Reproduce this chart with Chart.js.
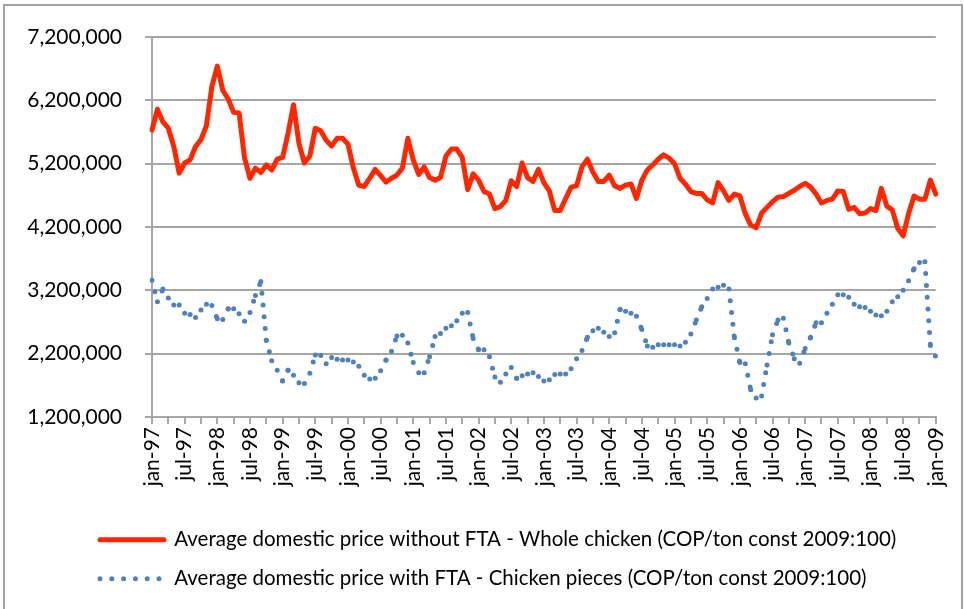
<!DOCTYPE html>
<html><head><meta charset="utf-8">
<script src="https://cdn.jsdelivr.net/npm/chart.js@4.4.1/dist/chart.umd.min.js"></script>
<style>
html,body{margin:0;padding:0;background:#fff;overflow:hidden}
#wrap{position:relative;width:964px;height:609px}
#frame{position:absolute;left:3px;top:4px;width:960px;height:700px;border:2px solid #a3a3a3;box-sizing:border-box;pointer-events:none}
canvas{position:absolute;left:0;top:0}
</style></head>
<body><div id="wrap"><canvas id="c" width="964" height="609"></canvas><div id="frame"></div></div>
<script>
const monthNames = ['jan','feb','mar','apr','may','jun','jul','aug','sep','oct','nov','dec'];
const years = ['97','98','99','00','01','02','03','04','05','06','07','08','09'];
const categories = [];
years.forEach((y, k) => { monthNames.forEach(m => { if (k < years.length - 1 || m === 'jan') categories.push(m + '-' + y); }); });

const seriesNames = [
  'Average domestic price without FTA - Whole chicken (COP/ton const 2009:100)',
  'Average domestic price with FTA - Chicken pieces (COP/ton const 2009:100)'
];

const wholeChicken = [
5730000,6060000,5860000,5760000,5470000,5050000,5210000,5260000,5470000,5580000,5800000,6420000,
6740000,6360000,6220000,6010000,6000000,5290000,4970000,5130000,5060000,5180000,5100000,5270000,
5300000,5680000,6130000,5520000,5210000,5320000,5760000,5720000,5570000,5480000,5600000,5600000,
5510000,5130000,4860000,4840000,4970000,5110000,5010000,4910000,4970000,5020000,5130000,5600000,
5260000,5030000,5150000,4980000,4940000,4980000,5320000,5430000,5430000,5300000,4790000,5040000,
4940000,4760000,4720000,4490000,4520000,4620000,4930000,4840000,5210000,4980000,4920000,5110000,
4900000,4770000,4460000,4460000,4650000,4830000,4850000,5150000,5270000,5070000,4920000,4920000,
5020000,4850000,4810000,4860000,4880000,4650000,4940000,5100000,5180000,5270000,5340000,5290000,
5200000,4970000,4880000,4760000,4730000,4730000,4630000,4580000,4900000,4770000,4620000,4720000,
4690000,4410000,4230000,4190000,4420000,4510000,4600000,4670000,4680000,4730000,4780000,4840000,
4890000,4830000,4720000,4580000,4620000,4640000,4770000,4760000,4480000,4510000,4410000,4420000,
4490000,4460000,4810000,4530000,4470000,4180000,4060000,4410000,4690000,4640000,4640000,4940000,
4720000];

const chickenPieces = [
3360000,3020000,3220000,3080000,2970000,2970000,2840000,2820000,2770000,2890000,2980000,2960000,
2750000,2740000,2910000,2910000,2830000,2710000,2850000,3120000,3340000,2410000,2090000,1940000,
1770000,1940000,1860000,1740000,1730000,1890000,2180000,2170000,2040000,2140000,2110000,2100000,
2100000,2070000,2000000,1860000,1800000,1810000,1930000,2100000,2240000,2480000,2490000,2370000,
2060000,1900000,1900000,2150000,2470000,2520000,2600000,2640000,2720000,2840000,2850000,2440000,
2260000,2260000,2150000,1830000,1750000,1880000,1980000,1810000,1850000,1880000,1900000,1840000,
1770000,1790000,1870000,1880000,1880000,1960000,2120000,2250000,2460000,2560000,2600000,2540000,
2470000,2530000,2900000,2870000,2840000,2790000,2580000,2320000,2300000,2340000,2340000,2340000,
2340000,2320000,2380000,2510000,2730000,2940000,3070000,3220000,3250000,3280000,3220000,2450000,
2060000,2040000,1630000,1500000,1530000,2020000,2500000,2730000,2760000,2370000,2120000,2050000,
2280000,2460000,2690000,2690000,2840000,2980000,3130000,3130000,3090000,2980000,2940000,2930000,
2870000,2810000,2800000,2870000,3020000,3100000,3200000,3350000,3540000,3640000,3650000,2330000,
2150000];

const yTicks = [1200000, 2200000, 3200000, 4200000, 5200000, 6200000, 7200000];

const GRAY = '#a6a6a6';
const FONT = 'Lato';
const LEGEND_FONT = 20.5;
const LEGEND_PAD = 18.5;

const legendShift = {
  id: 'legendShift',
  afterLayout(chart) {
    if (chart.legend) chart.legend.left = 100 - LEGEND_PAD;
  }
};

new Chart(document.getElementById('c'), {
  type: 'line',
  data: {
    labels: categories,
    datasets: [
      {
        label: seriesNames[0],
        data: wholeChicken,
        borderColor: '#ff2600',
        backgroundColor: '#ff2600',
        borderWidth: 5,
        borderCapStyle: 'round',
        borderJoinStyle: 'round',
        pointRadius: 0,
        tension: 0
      },
      {
        label: seriesNames[1],
        data: chickenPieces,
        borderColor: '#4f81bd',
        backgroundColor: '#4f81bd',
        borderWidth: 5,
        borderDash: [0, 11.8],
        borderCapStyle: 'round',
        borderJoinStyle: 'round',
        pointRadius: 0,
        tension: 0,
        segment: {
          borderDashOffset: ctx => (ctx.p0DataIndex % 2 ? -0.001 : 0)
        }
      }
    ]
  },
  plugins: [legendShift],
  options: {
    responsive: false,
    animation: false,
    devicePixelRatio: 1,
    layout: { padding: { left: 20, right: 28, top: 37, bottom: 10 } },
    plugins: {
      tooltip: { enabled: false },
      legend: {
        position: 'bottom',
        align: 'start',
        fullSize: true,
        labels: {
          usePointStyle: true,
          pointStyle: 'line',
          pointStyleWidth: 64,
          padding: LEGEND_PAD,
          color: '#000',
          font: { family: FONT, size: LEGEND_FONT },
          generateLabels: chart => chart.data.datasets.map((ds, i) => ({
            text: ds.label,
            fillStyle: ds.borderColor,
            strokeStyle: ds.borderColor,
            fontColor: '#000',
            lineWidth: ds.borderWidth,
            lineDash: ds.borderDash || [],
            lineDashOffset: 0,
            lineCap: 'round',
            lineJoin: 'round',
            pointStyle: 'line',
            rotation: 0,
            hidden: false,
            datasetIndex: i
          }))
        }
      }
    },
    scales: {
      x: {
        type: 'category',
        offset: false,
        afterFit: s => { s.height = 94; },
        grid: {
          drawOnChartArea: false,
          drawTicks: true,
          tickLength: 7,
          lineWidth: 2,
          color: ctx => (ctx.index % 3 === 0 ? GRAY : 'rgba(0,0,0,0)')
        },
        border: { color: GRAY, width: 2 },
        ticks: {
          autoSkip: false,
          minRotation: 90,
          maxRotation: 90,
          padding: 3,
          color: '#000',
          font: { family: FONT, size: 21 },
          callback: function (value, index) {
            return index % 6 === 0 ? this.getLabelForValue(value) : '';
          }
        }
      },
      y: {
        min: yTicks[0],
        max: yTicks[yTicks.length - 1],
        afterFit: s => { s.width = 132; },
        afterBuildTicks: s => { s.ticks = yTicks.map(v => ({ value: v })); },
        grid: { color: GRAY, lineWidth: 2, tickLength: 7, drawTicks: true },
        border: { color: GRAY, width: 2 },
        ticks: {
          padding: 23,
          color: '#000',
          font: { family: FONT, size: 21 },
          callback: v => Number(v).toLocaleString('en-US')
        }
      }
    }
  }
});
</script>
</body></html>
